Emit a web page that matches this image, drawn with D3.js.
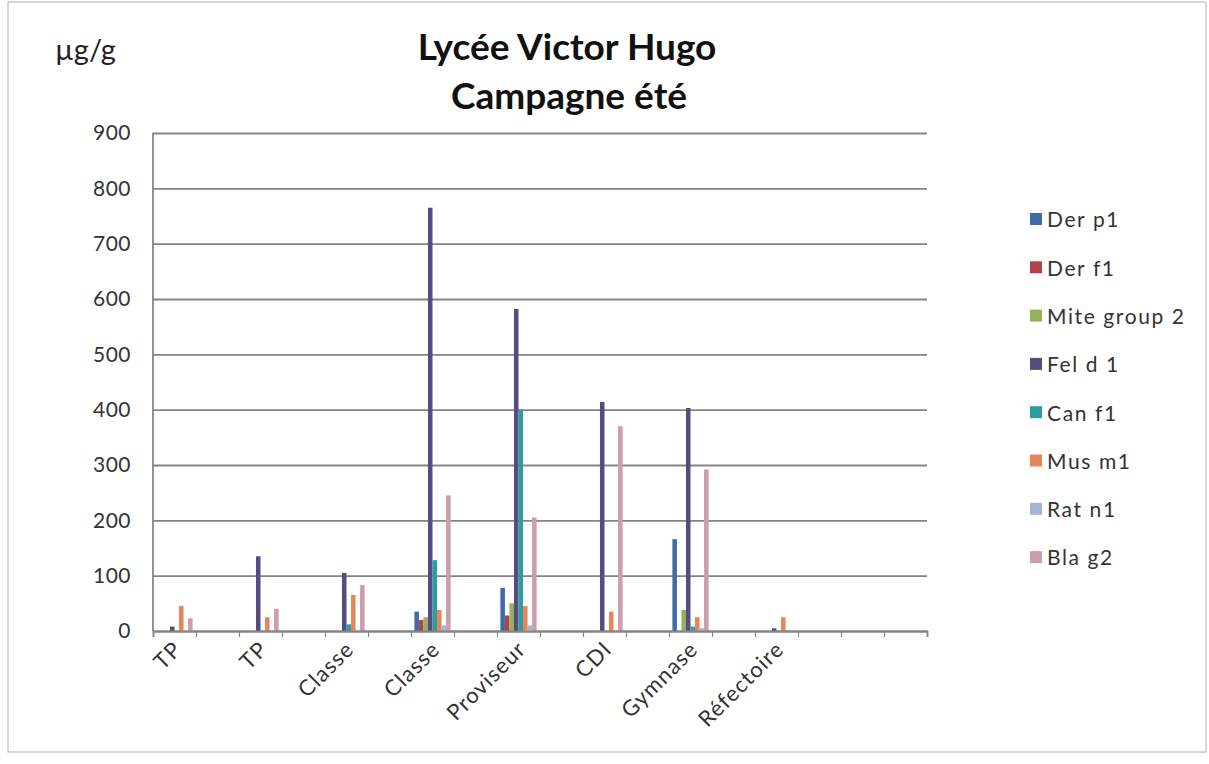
<!DOCTYPE html>
<html>
<head>
<meta charset="utf-8">
<script src="https://cdn.jsdelivr.net/npm/d3@7"></script>
<style>
  html, body { margin: 0; padding: 0; background: #fff; }
  svg { display: block; font-family: Lato, "Open Sans", sans-serif; }
</style>
</head>
<body>
<svg id="chart" width="1209" height="764"></svg>
<script>
// ---- data ----
const categoryLabels = ["TP", "", "TP", "", "Classe", "", "Classe", "", "Proviseur", "", "CDI", "", "Gymnase", "", "Réfectoire", "", "", ""];
const seriesNames = ["Der p1", "Der f1", "Mite group 2", "Fel d 1", "Can f1", "Mus m1", "Rat n1", "Bla g2"];
const derP1 = [0, 0, 0, 0, 0, 0, 35, 0, 78, 0, 0, 0, 166, 0, 0, 0, 0, 0];
const derF1 = [0, 0, 0, 0, 0, 0, 20, 0, 28, 0, 0, 0, 0, 0, 0, 0, 0, 0];
const miteGroup2 = [0, 0, 0, 0, 0, 0, 25, 0, 50, 0, 0, 0, 38, 0, 0, 0, 0, 0];
const felD1 = [8, 0, 135, 0, 105, 0, 765, 0, 582, 0, 414, 0, 403, 0, 5, 0, 0, 0];
const canF1 = [0, 0, 0, 0, 12, 0, 128, 0, 400, 0, 0, 0, 8, 0, 0, 0, 0, 0];
const musM1 = [45, 0, 25, 0, 65, 0, 38, 0, 45, 0, 35, 0, 25, 0, 25, 0, 0, 0];
const ratN1 = [0, 0, 0, 0, 0, 0, 10, 0, 10, 0, 0, 0, 5, 0, 0, 0, 0, 0];
const blaG2 = [23, 0, 40, 0, 83, 0, 245, 0, 205, 0, 370, 0, 292, 0, 0, 0, 0, 0];
const seriesValues = [derP1, derF1, miteGroup2, felD1, canF1, musM1, ratN1, blaG2];
const yTicks = [0, 100, 200, 300, 400, 500, 600, 700, 800, 900];

const colors = ["#3D6BA6", "#B4424D", "#98B05E", "#554D80", "#2F9C9F", "#E8845A", "#A7B3D3", "#CC9DAA"];

// ---- layout ----
const svg = d3.select("#chart");
const plot = { left: 153, right: 927, top: 133, bottom: 631 };

svg.append("rect").attr("x", 8).attr("y", 2).attr("width", 1198).attr("height", 750)
  .attr("fill", "#fff").attr("stroke", "#BFBFBF").attr("stroke-width", 1.2);

const idx = d3.range(categoryLabels.length);
const x = d3.scaleBand().domain(idx).range([plot.left, plot.right]).paddingInner(0).paddingOuter(0);
const xs = d3.scaleBand().domain(d3.range(seriesNames.length)).range([0, x.bandwidth()]).paddingInner(0).paddingOuter(0.75);
const y = d3.scaleLinear().domain([0, 900]).range([plot.bottom, plot.top]);

// gridlines + y labels
const yAxis = svg.append("g").attr("transform", `translate(${plot.left},0)`)
  .call(d3.axisLeft(y).tickValues(yTicks).tickSize(-(plot.right - plot.left)).tickPadding(22));
yAxis.select(".domain").remove();
yAxis.selectAll(".tick line").attr("stroke", "#858585").attr("stroke-width", 1.8);
yAxis.selectAll(".tick text").attr("font-size", 21).attr("letter-spacing", 0.5).attr("fill", "#333").attr("font-family", "Lato, sans-serif");

// left axis line
svg.append("line").attr("x1", plot.left).attr("x2", plot.left).attr("y1", plot.top).attr("y2", plot.bottom)
  .attr("stroke", "#858585").attr("stroke-width", 1.8);

// bars
const groups = svg.append("g").selectAll("g").data(seriesValues).join("g")
  .attr("fill", (d, i) => colors[i]);
groups.each(function (vals, si) {
  d3.select(this).selectAll("rect").data(vals.map((v, ci) => ({ v, ci })).filter(d => d.v > 0)).join("rect")
    .attr("x", d => x(d.ci) + xs(si))
    .attr("width", xs.bandwidth())
    .attr("y", d => y(d.v))
    .attr("height", d => y(0) - y(d.v));
});

// x axis with boundary ticks
const xb = d3.scaleLinear().domain([0, categoryLabels.length]).range([plot.left, plot.right]);
const xAxis = svg.append("g").attr("transform", `translate(0,${plot.bottom})`)
  .call(d3.axisBottom(xb).tickValues(d3.range(categoryLabels.length + 1)).tickSize(6).tickFormat(""));
xAxis.select(".domain").attr("stroke", "#858585").attr("stroke-width", 1.8);
xAxis.selectAll(".tick line").attr("stroke", "#858585").attr("stroke-width", 1.2);

// category labels
const xl = svg.append("g").attr("transform", `translate(0,${plot.bottom})`)
  .call(d3.axisBottom(x).tickSize(0).tickFormat(i => categoryLabels[i]));
xl.select(".domain").remove();
xl.selectAll(".tick text")
  .attr("font-size", 22).attr("fill", "#333").attr("font-family", "Lato, sans-serif")
  .attr("letter-spacing", 1.1)
  .attr("text-anchor", "end")
  .attr("transform", "translate(-3,8) rotate(-45)")
  .attr("x", 0).attr("y", 0).attr("dy", "0.75em");

// unit label
svg.append("text").attr("x", 55).attr("y", 60).attr("font-size", 29).attr("fill", "#222")
  .text("µg/g");

// title
const title = svg.append("text").attr("text-anchor", "middle")
  .attr("font-size", 37).attr("font-weight", "bold").attr("fill", "#111");
title.append("tspan").attr("x", 567).attr("y", 60).text("Lycée Victor  Hugo");
title.append("tspan").attr("x", 569).attr("y", 109).text("Campagne  été");

// legend
const legend = svg.append("g").selectAll("g").data(seriesNames).join("g")
  .attr("transform", (d, i) => `translate(1030,${219 + i * 48.3})`);
legend.append("rect").attr("x", 0).attr("y", -6).attr("width", 12).attr("height", 12)
  .attr("fill", (d, i) => colors[i]);
legend.append("text").attr("x", 17).attr("y", 1).attr("dy", "0.35em")
  .attr("font-size", 21).attr("letter-spacing", 1.6).attr("fill", "#333").text(d => d);
</script>
</body>
</html>
